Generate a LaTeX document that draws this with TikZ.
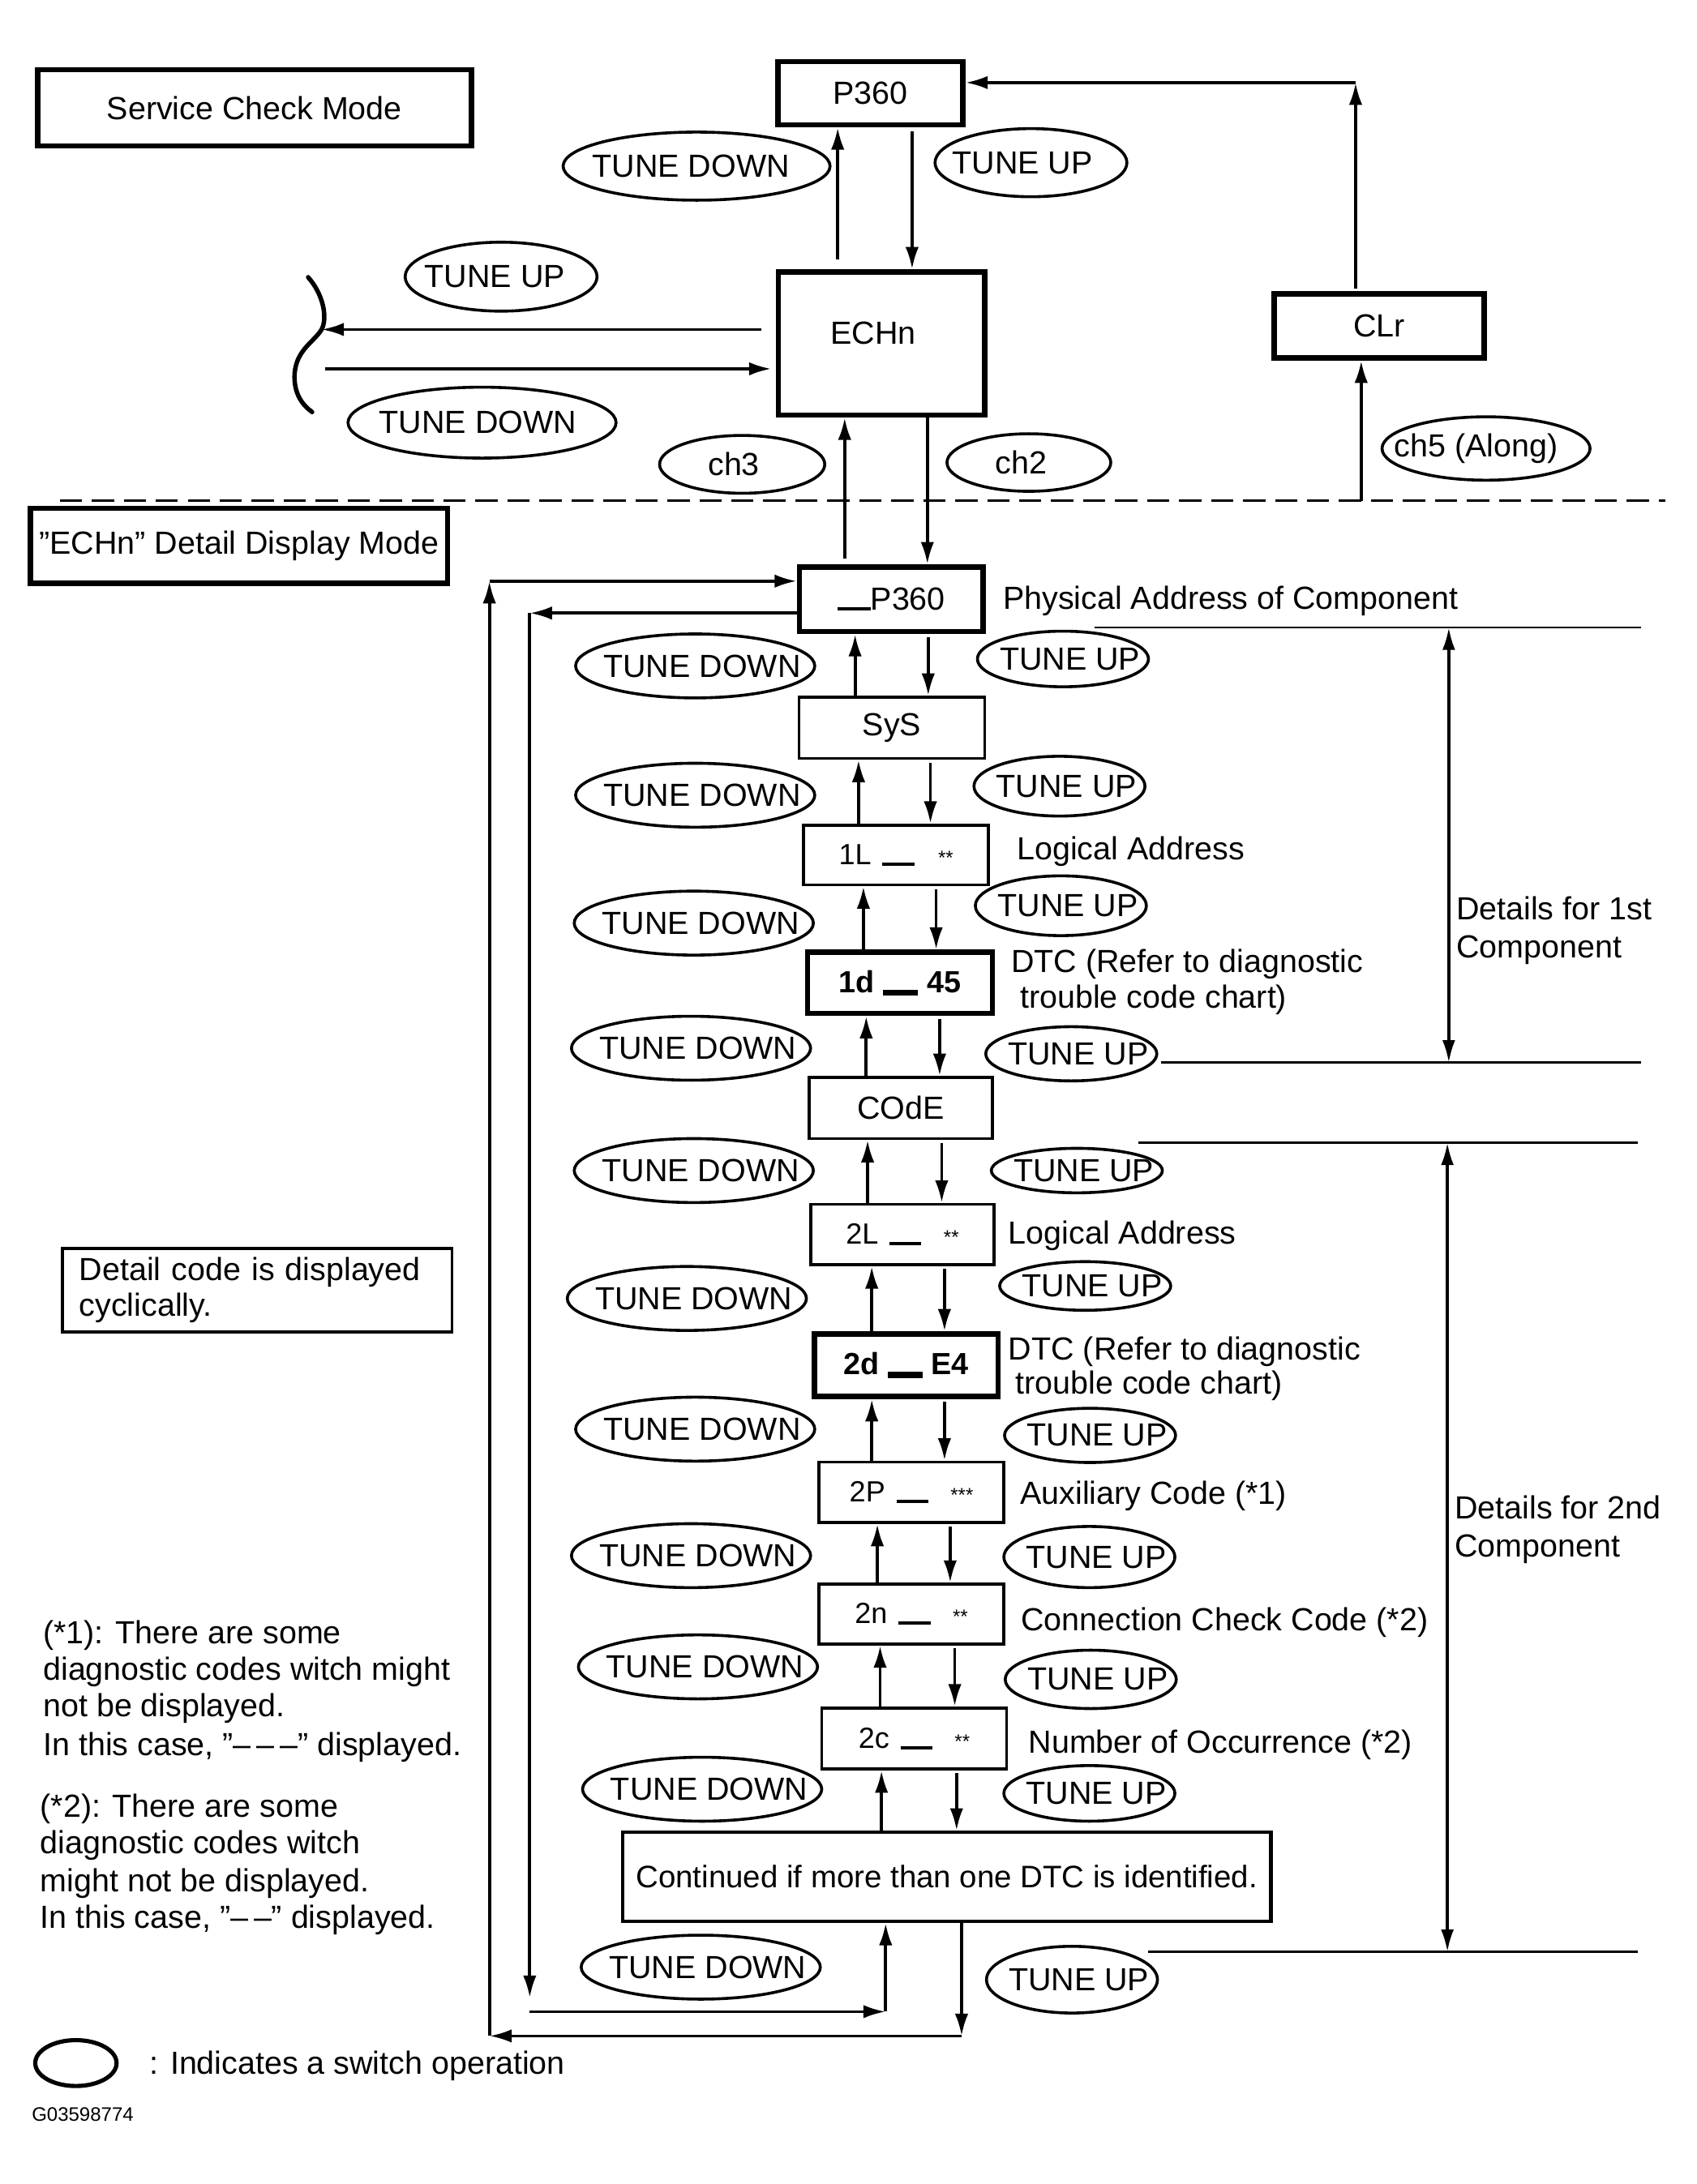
\documentclass[tikz,border=0pt]{standalone}
\usepackage{fontspec}
\setmainfont{Liberation Sans}
\usetikzlibrary{arrows.meta,shapes.geometric,calc}
\newcommand\codebar{\rule[-0.4pt]{11.5pt}{1.2pt}}
\newcommand\boldbar{\rule[-1.2pt]{12.5pt}{2.2pt}}
\newcommand\codestars[1]{{\fontsize{7}{7}\selectfont #1}}
\newcommand\etx[2]{\makebox[0pt]{\hspace{#1}#2}}
\begin{document}
\begin{tikzpicture}[x=0.5pt, y=-0.5pt, font=\fontsize{11.5}{13.4}\selectfont,
 box/.style={draw, rectangle, line width=1.1pt, inner sep=0pt},
 tbox/.style={box, line width=1.9pt},
 sw/.style={draw, ellipse, line width=1.05pt, inner sep=0pt},
 td/.style={sw, minimum width=86pt, minimum height=23pt},
 tu/.style={sw, minimum width=61.5pt},
 arr/.style={line width=1.1pt, -{Latex[length=8pt,width=4.8pt]}},
 dbl/.style={line width=1pt, {Latex[length=8pt,width=4.6pt]}-{Latex[length=8pt,width=4.6pt]}},
 lbl/.style={anchor=base west, inner sep=0pt},
 hline/.style={line width=0.8pt},
 codef/.style={font=\fontsize{10.5}{12}\selectfont},
 boldf/.style={font=\bfseries\fontsize{11}{12}\selectfont},
 cbox/.style={box, minimum width=66.5pt, minimum height=22pt},
 bbox/.style={tbox, minimum width=66.5pt, minimum height=22.5pt},
]
\useasboundingbox (0,0) rectangle (1220,1571);

% ---------------- Service check mode ----------------
\node[tbox, minimum width=156pt, minimum height=27.5pt] (scm) at (183,77.5) {Service Check Mode};
\node[tbox, minimum width=66.5pt, minimum height=22.75pt] (p360) at (626,67) {P360\hspace{4.5pt}};
\node[tbox, minimum width=74.3pt, minimum height=51.5pt, label={[xshift=-3pt,yshift=3.7pt]center:ECHn}] (echn) at (634,247) {};
\node[tbox, minimum width=75.5pt, minimum height=23pt] (clr) at (992,234.5) {CLr\hspace{9pt}};

\node[sw, minimum width=96pt, minimum height=24.5pt] (tdT) at (501,119.5) {\etx{-4pt}{TUNE DOWN}};
\node[sw, minimum width=69pt, minimum height=24.5pt] (tuT) at (741.5,117) {\etx{-6pt}{TUNE UP}};
\node[sw, minimum width=69pt, minimum height=24.8pt] (tuL) at (360.4,199) {\etx{-4.5pt}{TUNE UP}};
\node[sw, minimum width=96.4pt, minimum height=25.5pt] (tdL) at (346.7,304) {\etx{-3pt}{TUNE DOWN}};
\node[sw, minimum width=59.4pt, minimum height=20.8pt] (ch3) at (533.8,334) {\etx{-6pt}{ch3}};
\node[sw, minimum width=58.9pt, minimum height=20.7pt] (ch2) at (740,332.7) {\etx{-5.5pt}{ch2}};
\node[sw, minimum width=74.8pt, minimum height=22.8pt] (ch5) at (1068.8,322.6) {\etx{-7pt}{ch5 (Along)}};

\draw[arr, shorten <=3.5pt] (echn.north -| 602.5,0) -- (p360.south -| 602.5,0);
\draw[arr, shorten <=1.5pt] (p360.south -| 656,0) -- (echn.north -| 656,0);
\coordinate (cTR) at (975,59.4);
\draw[arr, shorten <=1pt] (clr.north -| cTR) -- (cTR);
\draw[arr] (cTR) -- (p360.east |- cTR);
\coordinate (dl5) at (979,360.5);
\draw[arr] (dl5) -- (clr.south -| dl5);
\draw[line width=0.8pt, dash pattern=on 8pt off 3.5pt] (43,360) -- (1198,360);

% bracket (left exit)
\coordinate (bj) at (231.3,237);
\coordinate (bb) at (234,265.3);
\draw[line width=1.6pt, line cap=round] (221.6,199.4) .. controls (232,211) and (236,228) .. (231.3,237)
  .. controls (226,246) and (212,252) .. (211.8,271) .. controls (211.8,283) and (217,291) .. (224.5,296.4);
\draw[arr, shorten <=5pt] (echn.west |- bj) -- (bj);
\draw[arr, shorten >=1.5pt] (bb) -- (echn.west |- bb);

% ---------------- Detail display mode ----------------
\node[tbox, minimum width=150pt, minimum height=27pt] (mode2) at (172,392.5) {”ECHn” Detail Display Mode};

\node[tbox, minimum width=66pt, minimum height=23.25pt] (pa) at (641,431) {\rule[-0.3pt]{12pt}{1.3pt}P360\hspace{9pt}};
\node[cbox, minimum width=66.75pt] (sys) at (641.5,523.5) {SyS\hspace{9.5pt}};
\node[cbox, codef, minimum height=21.5pt] (l1) at (644.5,615) {1L\hspace{4pt}\codebar\hspace{8.5pt}\codestars{**}\hspace{7pt}};
\node[bbox, boldf, minimum height=22pt] (d1) at (647.4,707) {1d\hspace{3pt}\boldbar\hspace{3.5pt}45};
\node[cbox, minimum width=66pt] (code) at (647.8,797) {COdE};
\node[cbox, codef, minimum width=66pt, minimum height=21.8pt] (l2) at (649,888) {2L\hspace{4pt}\codebar\hspace{8pt}\codestars{**}\hspace{2.5pt}};
\node[bbox, boldf, minimum width=66pt] (d2) at (651.8,982) {2d\hspace{3pt}\boldbar\hspace{3pt}E4};
\node[cbox, codef, minimum height=21.75pt] (p2) at (655.5,1073.4) {2P\hspace{4pt}\codebar\hspace{8pt}\codestars{***}\hspace{2.5pt}};
\node[cbox, codef, minimum height=21.5pt] (n2) at (655.5,1161) {2n\hspace{4pt}\codebar\hspace{8pt}\codestars{**}\hspace{7.5pt}};
\node[cbox, codef] (c2) at (657.5,1250.5) {2c\hspace{4pt}\codebar\hspace{8pt}\codestars{**}\hspace{7.5pt}};
\node[box, line width=1.3pt, minimum width=233pt, minimum height=32pt, font=\fontsize{11.2}{13}\selectfont] (cont) at (681,1350) {Continued if more than one DTC is identified.};

% chain arrows
\foreach \u/\l/\xa/\xb in {pa/sys/615/667.6, sys/l1/617.5/669.2, l1/d1/621/673.3, d1/code/623/675.8, code/l2/624/677.3, l2/d2/627/679.3, d2/p2/627/679.3, p2/n2/631/683.4, n2/c2/633/686.7, c2/cont/634/688}{
  \draw[arr] (\l.north -| \xa,0) -- (\u.south -| \xa,0);
  \draw[arr, shorten <=1pt] (\u.south -| \xb,0) -- (\l.north -| \xb,0);
}
\draw[arr] (echn.south -| 667,0) -- (pa.north -| 667,0);
\draw[arr, shorten <=2pt] (pa.north -| 607.5,0) -- (echn.south -| 607.5,0);

% switch ellipses in chain
\foreach \n/\cx/\cy in {1/500/479, 2/500/572, 3/499/664, 4/497/754, 5/499/842, 6/494/934, 7/500/1028, 8/497/1119, 9/502/1199, 10/505/1287, 11/504/1415}
  \node[td] (td\n) at (\cx,\cy) {\etx{5pt}{TUNE DOWN}};
\foreach \n/\cx/\cy/\h in {1/764.5/474/20, 2/762/565.5/21.5, 3/763/651.5/21.5, 4/770.5/758/19.5, 5/774.5/842/16, 6/780.5/925/17.5, 7/784/1032.5/19.5, 8/783.5/1120/22, 9/784.5/1208/21, 10/783.5/1290/20, 11/771/1424/24}
  \node[tu, minimum height=\h pt] (tu\n) at (\cx,\cy) {\etx{5pt}{TUNE UP}};

% loops
\coordinate (ob1) at (691.6,1464.5);
\coordinate (ob2) at (352,1464.5);
\coordinate (ob3) at (352,418);
\draw[arr] (cont.south -| ob1) -- (ob1);
\draw[arr] (ob1) -- (ob2);
\draw[arr] (ob2) -- (ob3);
\draw[arr] (ob3) -- (pa.west |- ob3);
\coordinate (ib1) at (381,441);
\coordinate (ib2) at (381,1447);
\coordinate (ib3) at (637,1447);
\draw[arr] (pa.west |- ib1) -- (ib1);
\draw[arr, shorten >=5pt] (ib1) -- (ib2);
\draw[arr] (ib2) -- (ib3);
\draw[arr] (ib3) -- (cont.south -| ib3);

% right-hand labels
\node[lbl] (lpa) at (721,438) {Physical Address of Component};
\node[lbl] (ll1) at (731,618.6) {Logical Address};
\node[lbl] (ld1a) at (727,699.4) {DTC (Refer to diagnostic};
\node[lbl] (ld1b) at (733.4,725.4) {trouble code chart)};
\node[lbl] (ll2) at (725,895) {Logical Address};
\node[lbl] (ld2a) at (725,978) {DTC (Refer to diagnostic};
\node[lbl] (ld2b) at (730,1002.7) {trouble code chart)};
\node[lbl] (lp2) at (733.4,1082.3) {Auxiliary Code (*1)};
\node[lbl] (ln2) at (734,1172.7) {Connection Check Code (*2)};
\node[lbl] (lc2) at (739.4,1261.3) {Number of Occurrence (*2)};

% component brackets
\coordinate (h1a) at (787,451.4);  \coordinate (h1b) at (1180,451.4);
\coordinate (h2a) at (835,764.3);  \coordinate (h2b) at (1180,764.3);
\coordinate (h3a) at (819,822);    \coordinate (h3b) at (1178,822);
\coordinate (h4a) at (826,1404);   \coordinate (h4b) at (1178,1404);
\draw[hline] (h1a) -- (h1b);
\draw[hline] (h2a) -- (h2b);
\draw[hline] (h3a) -- (h3b);
\draw[hline] (h4a) -- (h4b);
\draw[dbl] (1042,451.4) -- (1042,764.3);
\draw[dbl] (1041,822) -- (1041,1404);
\node[lbl] (cm1a) at (1047,661.6) {Details for 1st};
\node[lbl] (cm1b) at (1047,689) {Component};
\node[lbl] (cm2a) at (1046,1092.7) {Details for 2nd};
\node[lbl] (cm2b) at (1046,1120) {Component};

% left notes
\node[box, line width=1pt, minimum width=140pt, minimum height=30pt, text width=128pt, align=left, inner xsep=6pt, font=\fontsize{11.5}{13}\selectfont] (cyc) at (185,928) {Detail code is displayed\\cyclically.};
\node[lbl] (na1) at (30.7,1182.3) {(*1): There are some};
\node[lbl] (na2) at (30.7,1208.7) {diagnostic codes witch might};
\node[lbl] (na3) at (30.7,1235) {not be displayed.};
\node[lbl] (na4) at (30.7,1262.6) {In this case, ”–\hspace{2pt}–\hspace{2pt}–” displayed.};
\node[lbl] (nb1) at (28.6,1306.9) {(*2): There are some};
\node[lbl] (nb2) at (28.6,1333.2) {diagnostic codes witch};
\node[lbl] (nb3) at (28.6,1360.8) {might not be displayed.};
\node[lbl] (nb4) at (28.6,1387) {In this case, ”–\hspace{2pt}–” displayed.};

% legend
\node[sw, line width=1.5pt, minimum width=29.25pt, minimum height=16.5pt] (lg) at (54.6,1484) {};
\node[lbl] (lgt) at (107.2,1492) {: Indicates a switch operation};
\node[lbl, font=\fontsize{7}{8}\selectfont] (gid) at (22.5,1526) {G03598774};
\end{tikzpicture}
\end{document}
